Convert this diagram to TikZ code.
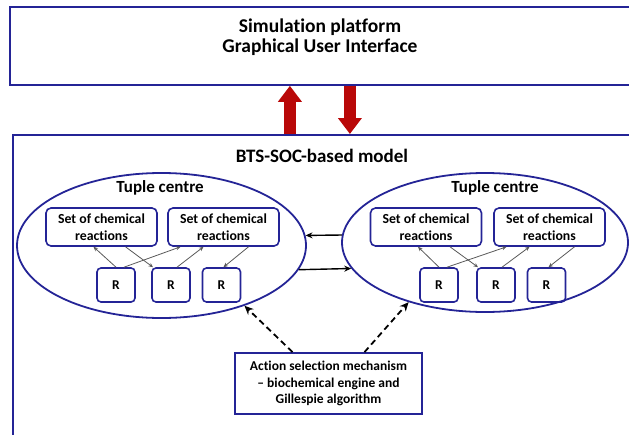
\documentclass[tikz,border=0pt]{standalone}
\usepackage{fontspec}
\setmainfont{Carlito}[Ligatures=NoCommon]
\usetikzlibrary{shapes.geometric,arrows.meta}
\definecolor{boxblue}{RGB}{36,36,150}
\definecolor{arrowred}{RGB}{185,8,8}
\tikzset{
  panel/.style={draw=boxblue, line width=1.8pt, rectangle, inner sep=0pt},
  tuple/.style={draw=boxblue, line width=1.8pt, ellipse, inner sep=0pt},
  reactbox/.style={draw=boxblue, line width=1.6pt, rounded corners=5pt, minimum width=111pt,
    minimum height=38pt, align=center, font=\fontsize{13.8}{17.5}\selectfont\bfseries},
  rbox/.style={draw=boxblue, line width=1.6pt, rounded corners=4pt, minimum width=38pt,
    minimum height=34pt, font=\fontsize{13.5}{16}\selectfont\bfseries},
  rlink/.style={draw=black!65, line width=0.8pt, -{Stealth[length=4.5pt,width=4pt]}},
  tclink/.style={line width=1.4pt, -{Stealth[length=7pt,width=6pt]}},
  ctrl/.style={line width=1.8pt, dash pattern=on 6pt off 4pt, -{Stealth[length=9pt,width=8pt]}},
  redarrow/.style={draw=arrowred, line width=12pt, -{Triangle[length=16pt,width=23pt]}},
}

\begin{document}
\begin{tikzpicture}[x=1pt,y=-1pt]
  \useasboundingbox (0,0) rectangle (629,434);
  \clip (0,0) rectangle (629,434);

  % platform and model panels
  \node[panel, anchor=north west, minimum width=622pt, minimum height=78pt] (gui) at (9,6) {};
  \node[align=center, font=\fontsize{19.5}{19.5}\selectfont\bfseries] (guitext) at (320,37)
    {Simulation platform\\Graphical User Interface};
  \node[panel, anchor=north west, minimum width=628pt, minimum height=311pt] (model) at (12,134) {};
  \node[font=\fontsize{19}{22}\selectfont\bfseries] (modeltext) at (322,156) {BTS-SOC-based model};

  % red arrows between panels
  \coordinate (up) at ([xshift=-31pt]gui.south);
  \coordinate (down) at ([xshift=29pt]gui.south);
  \draw[redarrow] (up |- model.north) -- (up);
  \draw[redarrow] (down) -- (down |- model.north);

  % tuple centres
  \node[tuple, minimum width=289pt, minimum height=145pt] (tc1) at (161.5,245.5) {};
  \node[tuple, minimum width=286pt, minimum height=139pt] (tc2) at (485,242.5) {};
  \node[font=\fontsize{17}{20}\selectfont\bfseries] (tc1text) at (160,188) {Tuple centre};
  \node[font=\fontsize{17}{20}\selectfont\bfseries] (tc2text) at (495,188) {Tuple centre};

  % reactions and R boxes
  \foreach \i/\x in {1/101.5,2/223.5,3/426,4/549.5}{
    \node[reactbox] (s\i) at (\x,227) {Set of chemical\\reactions};
  }
  \foreach \i/\x in {1/116,2/171,3/221.5,4/439,5/496,6/546.5}{
    \node[rbox] (r\i) at (\x,285) {R};
  }

  % links inside each tuple centre
  \foreach \a/\b/\c/\d/\e in {s1/s2/r1/r2/r3, s3/s4/r4/r5/r6}{
    \draw[rlink] (\c.north) -- ([xshift=-8pt]\a.south);
    \draw[rlink] ([xshift=24pt]\a.south) -- ([xshift=-18pt]\d.north);
    \draw[rlink] ([xshift=8pt]\c.north) -- ([xshift=-43pt]\b.south);
    \draw[rlink] ([xshift=6pt]\d.north) -- ([xshift=-20pt]\b.south);
    \draw[rlink] ([xshift=25pt]\b.south) -- ([xshift=2pt]\e.north);
  }

  % links between tuple centres
  \draw[tclink] (tc2.177) -- (tc1.4);
  \draw[tclink] (tc1.-10) -- (tc2.-169);

  % action selection
  \node[panel, minimum width=187pt, minimum height=61pt, align=center,
    font=\fontsize{13.5}{16.5}\selectfont\bfseries] (act) at (328.5,383.5)
    {Action selection mechanism\\-- biochemical engine and\\Gillespie algorithm};
  \draw[ctrl] ([xshift=-36pt]act.north) -- (tc1.-36);
  \draw[ctrl] ([xshift=36pt]act.north) -- (tc2.-142);
\end{tikzpicture}
\end{document}
